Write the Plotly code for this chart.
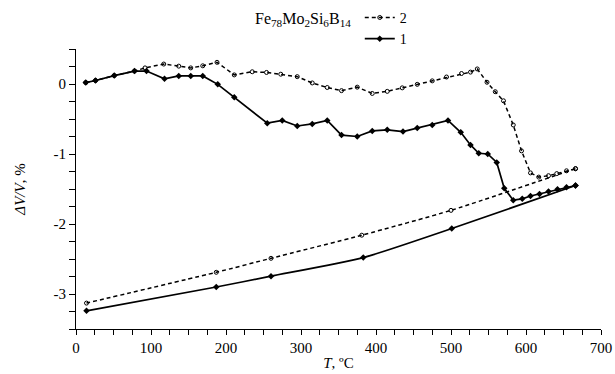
import plotly.graph_objects as go

# Series 2 (dashed, open circles): heating run then cooling run
x2_heat = [13, 26, 51, 78, 92, 117, 137, 153, 169, 188, 211, 235, 254, 273, 295, 315, 335, 354,
           375, 395, 415, 435, 455, 475, 494, 514, 526, 535, 548, 559, 570, 583, 594, 606, 617,
           630, 641, 654, 666]
y2_heat = [0.02, 0.05, 0.12, 0.185, 0.23, 0.285, 0.255, 0.23, 0.26, 0.31, 0.13, 0.175, 0.165,
           0.14, 0.105, 0.015, -0.05, -0.095, -0.045, -0.135, -0.105, -0.055, -0.005, 0.045,
           0.1, 0.15, 0.17, 0.215, 0.025, -0.11, -0.24, -0.585, -0.955, -1.27, -1.33, -1.31,
           -1.28, -1.24, -1.21]
x2_cool = [666, 500, 381, 260, 187, 14]
y2_cool = [-1.21, -1.805, -2.16, -2.49, -2.69, -3.13]

# Series 1 (solid)
x1_heat = [13, 26, 51, 78, 94, 118, 137, 153, 169, 189, 211, 255, 275, 295, 315, 335, 354, 375,
           395, 415, 436, 455, 475, 496, 513, 526, 537, 549, 561, 571, 583, 595, 606, 618, 630,
           642, 654, 666]
y1_heat = [0.02, 0.05, 0.12, 0.185, 0.185, 0.075, 0.115, 0.115, 0.115, -0.005, -0.19, -0.56,
           -0.52, -0.6, -0.57, -0.52, -0.73, -0.75, -0.67, -0.655, -0.68, -0.63, -0.585, -0.52,
           -0.69, -0.87, -0.99, -1.0, -1.12, -1.49, -1.66, -1.64, -1.6, -1.57, -1.535, -1.505,
           -1.475, -1.45]
x1_cool = [666, 501, 383, 260, 187, 14]
y1_cool = [-1.45, -2.065, -2.48, -2.745, -2.9, -3.24]

x_ticks = [0, 100, 200, 300, 400, 500, 600, 700]
y_ticks = [-3, -2, -1, 0]

FONT = "Liberation Serif"
dash = "4px,3px"
m2 = dict(symbol="circle-open", size=4, color="black", line=dict(width=1))
m1 = dict(symbol="diamond", size=5, color="black")

fig = go.Figure()
fig.add_trace(go.Scatter(x=x2_heat, y=y2_heat, mode="lines+markers", name="2",
                         line=dict(color="black", width=1.5, dash=dash), marker=m2,
                         legendgroup="2"))
fig.add_trace(go.Scatter(x=x2_cool, y=y2_cool, mode="lines+markers", name="2",
                         line=dict(color="black", width=1.5, dash=dash, shape="spline", smoothing=0.6),
                         marker=m2, legendgroup="2", showlegend=False))
fig.add_trace(go.Scatter(x=x1_heat, y=y1_heat, mode="lines+markers", name="1",
                         line=dict(color="black", width=1.7), marker=m1, legendgroup="1"))
fig.add_trace(go.Scatter(x=x1_cool, y=y1_cool, mode="lines+markers", name="1",
                         line=dict(color="black", width=1.7, shape="spline", smoothing=0.6),
                         marker=m1, legendgroup="1", showlegend=False))

fig.update_layout(
    width=615, height=374,
    margin=dict(l=76, r=14, t=49, b=45, autoexpand=False),
    paper_bgcolor="white", plot_bgcolor="white",
    font=dict(family=FONT, size=15, color="black"),
    showlegend=True,
    legend=dict(xref="container", yref="container", x=0.585, y=0.995,
                xanchor="left", yanchor="top", bgcolor="rgba(0,0,0,0)",
                font=dict(family=FONT, size=14), itemwidth=30, tracegroupgap=0,
                traceorder="normal"),
    annotations=[dict(text="Fe<sub>78</sub>Mo<sub>2</sub>Si<sub>6</sub>B<sub>14</sub>",
                      xref="paper", yref="paper", x=0.433, y=1.107, xanchor="center",
                      yanchor="middle", showarrow=False, font=dict(family=FONT, size=16))],
)
fig.update_xaxes(range=[0, 700], tickvals=x_ticks, ticktext=[str(v) for v in x_ticks],
                 automargin=False,
                 showgrid=False, zeroline=False, showline=True, linecolor="black", linewidth=1,
                 ticks="outside", ticklen=5, tickcolor="black",
                 minor=dict(dtick=25, ticks="outside", ticklen=5, tickcolor="black"),
                 title=dict(text="<i>T</i>, ºC", standoff=2, font=dict(family=FONT, size=15)))
fig.update_yaxes(range=[-3.5, 0.5], tickvals=y_ticks, ticktext=[str(v) for v in y_ticks],
                 automargin=False,
                 showgrid=False, zeroline=False, showline=True, linecolor="black", linewidth=1,
                 ticks="outside", ticklen=6, tickcolor="black",
                 minor=dict(dtick=0.25, ticks="outside", ticklen=6, tickcolor="black"),
                 title=dict(text="<i>ΔV/V</i>, %", standoff=24, font=dict(family=FONT, size=15)))

fig.write_html("out.html", config={"displayModeBar": False},
               post_script="document.body.style.margin='0';")
